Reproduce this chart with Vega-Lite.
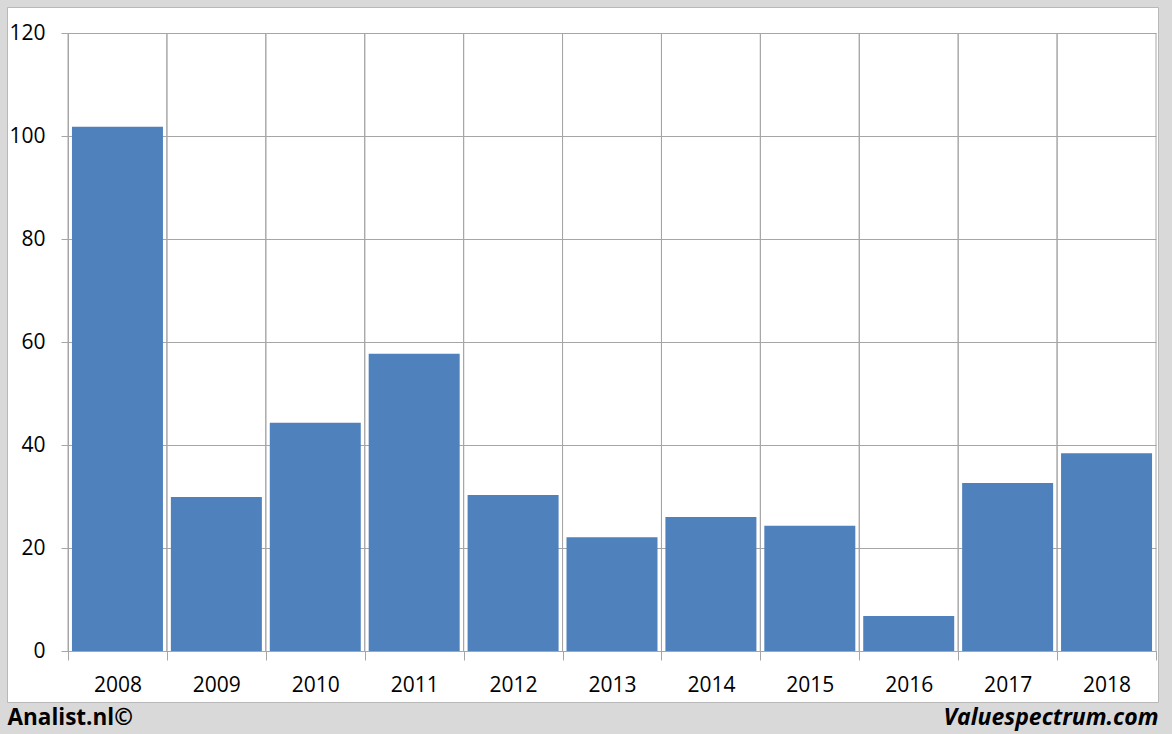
{
  "$schema": "https://vega.github.io/schema/vega-lite/v6.json",
  "width": 1151,
  "height": 695,
  "autosize": {"type": "none"},
  "padding": {"left": 7, "top": 7, "right": 14, "bottom": 32},
  "background": "#d9d9d9",
  "config": {
    "view": {"fill": "white", "stroke": "#b8b8b8", "strokeWidth": 1},
    "font": "Open Sans"
  },
  "data": {
    "values": [
      {"year": "2008", "value": 101.8},
      {"year": "2009", "value": 29.9},
      {"year": "2010", "value": 44.3},
      {"year": "2011", "value": 57.7},
      {"year": "2012", "value": 30.3},
      {"year": "2013", "value": 22.1},
      {"year": "2014", "value": 26.0},
      {"year": "2015", "value": 24.3},
      {"year": "2016", "value": 6.8},
      {"year": "2017", "value": 32.6},
      {"year": "2018", "value": 38.4}
    ]
  },
  "layer": [
    {
      "mark": {"type": "rule", "color": "#a6a6a6", "strokeWidth": 1},
      "encoding": {
        "x": {"field": "year", "type": "ordinal", "bandPosition": 0},
        "y": {"datum": 0, "type": "quantitative"},
        "y2": {"datum": 120}
      }
    },
    {
      "mark": {"type": "rule", "color": "#a6a6a6", "strokeWidth": 1},
      "encoding": {
        "x": {"field": "year", "type": "ordinal", "bandPosition": 1},
        "y": {"datum": 0, "type": "quantitative"},
        "y2": {"datum": 120}
      }
    },
    {
      "mark": {"type": "bar", "color": "#4F81BD", "width": {"band": 0.92}},
      "encoding": {
        "x": {
          "field": "year",
          "type": "ordinal",
          "scale": {"range": [61, 1149], "paddingInner": 0, "paddingOuter": 0},
          "axis": {
            "orient": "bottom",
            "offset": -51,
            "bandPosition": 0.5,
            "tickBand": "extent",
            "ticks": true,
            "grid": false,
            "domainColor": "#a6a6a6",
            "tickColor": "#a6a6a6",
            "tickSize": 9,
            "labelAngle": 0,
            "labelAlign": "center",
            "labelFont": "Open Sans",
            "labelFontSize": 21,
            "labelColor": "black",
            "labelPadding": 25,
            "title": "Valuespectrum.com",
            "titleX": 1151,
            "titleY": 73,
            "titleAlign": "right",
            "titleBaseline": "alphabetic",
            "titleFont": "Open Sans",
            "titleFontSize": 23,
            "titleFontWeight": "bold",
            "titleFontStyle": "italic",
            "titleColor": "black"
          }
        },
        "y": {
          "field": "value",
          "type": "quantitative",
          "scale": {"domain": [0, 120], "range": [644, 26], "nice": false},
          "axis": {
            "offset": -61,
            "values": [0, 20, 40, 60, 80, 100, 120],
            "grid": true,
            "gridColor": "#a6a6a6",
            "gridOpacity": 1,
            "domainColor": "#a6a6a6",
            "tickColor": "#a6a6a6",
            "tickSize": 7,
            "labelFont": "Open Sans",
            "labelFontSize": 21,
            "labelColor": "black",
            "labelPadding": 16,
            "title": "Analist.nl©",
            "titleAngle": 0,
            "titleX": -61,
            "titleY": 717,
            "titleAlign": "left",
            "titleBaseline": "alphabetic",
            "titleFont": "Open Sans",
            "titleFontSize": 22.5,
            "titleFontWeight": "bold",
            "titleColor": "black"
          }
        }
      }
    }
  ]
}
